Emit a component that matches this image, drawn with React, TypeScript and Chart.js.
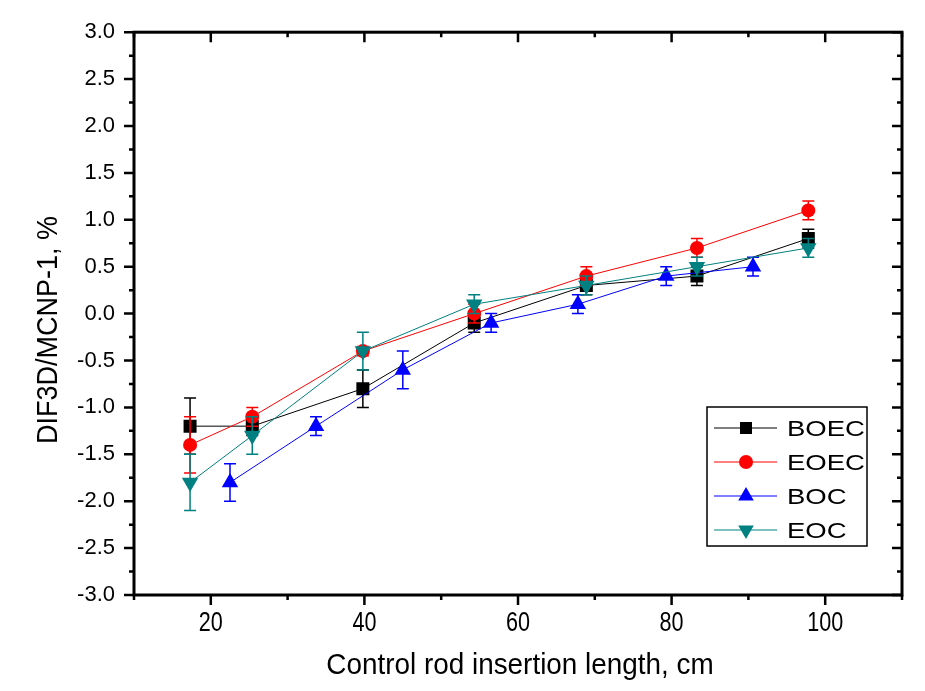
import React, { useEffect, useRef } from "react";
import { Chart, registerables } from "chart.js";

Chart.register(...registerables);

// ---------------- data ----------------
const seriesNames = ["BOEC", "EOEC", "BOC", "EOC"];
const seriesColors = ["#000000", "#ff0000", "#0000ff", "#008080"];

const boecX = [17.3, 25.4, 39.8, 54.3, 68.9, 83.3, 97.8];
const boecY = [-1.2, -1.2, -0.8, -0.1, 0.3, 0.4, 0.8];
const boecErr = [0.3, 0.1, 0.2, 0.1, 0.1, 0.1, 0.1];

const eoecX = [17.3, 25.4, 39.8, 54.3, 68.9, 83.3, 97.8];
const eoecY = [-1.4, -1.1, -0.4, 0.0, 0.4, 0.7, 1.1];
const eoecErr = [0.3, 0.1, 0.05, 0.1, 0.1, 0.1, 0.1];

const bocX = [22.5, 33.7, 45.0, 56.5, 67.8, 79.3, 90.6];
const bocY = [-1.8, -1.2, -0.6, -0.1, 0.1, 0.4, 0.5];
const bocErr = [0.2, 0.1, 0.2, 0.1, 0.1, 0.1, 0.1];

const eocX = [17.3, 25.4, 39.8, 54.3, 68.9, 83.3, 97.8];
const eocY = [-1.8, -1.3, -0.4, 0.1, 0.3, 0.5, 0.7];
const eocErr = [0.3, 0.2, 0.2, 0.1, 0.1, 0.1, 0.1];

const xTickValues = [20, 40, 60, 80, 100];
const xMinorTicks = [10, 30, 50, 70, 90, 110];
const yTickValues = [-3, -2.5, -2, -1.5, -1, -0.5, 0, 0.5, 1, 1.5, 2, 2.5, 3];
const yMinorTicks = [-2.75, -2.25, -1.75, -1.25, -0.75, -0.25, 0.25, 0.75, 1.25, 1.75, 2.25, 2.75];

const xTitle = "Control rod insertion length, cm";
const yTitle = "DIF3D/MCNP-1, %";

const pts = (xs: number[], ys: number[]) => xs.map((x, i) => ({ x, y: ys[i] }));

const SANS = "'Liberation Sans', Arial, sans-serif";

// draw text with a horizontal stretch factor
function stretchText(
  ctx: CanvasRenderingContext2D,
  text: string,
  x: number,
  y: number,
  size: number,
  sx: number,
  align: "left" | "center" | "right"
) {
  ctx.save();
  ctx.font = `${size}px ${SANS}`;
  ctx.textAlign = "left";
  ctx.textBaseline = "alphabetic";
  const w = ctx.measureText(text).width * sx;
  const x0 = align === "left" ? x : align === "center" ? x - w / 2 : x - w;
  ctx.translate(x0, y);
  ctx.scale(sx, 1);
  ctx.fillText(text, 0, 0);
  ctx.restore();
}

// ------------- marker drawing (legend) -------------
function drawMarker(ctx: CanvasRenderingContext2D, style: string, x: number, y: number, r: number, color: string, rot = 0) {
  ctx.save();
  ctx.fillStyle = color;
  ctx.beginPath();
  if (style === "rect") {
    const s = r * Math.SQRT1_2;
    ctx.rect(x - s, y - s, 2 * s, 2 * s);
  } else if (style === "circle") {
    ctx.arc(x, y, r, 0, Math.PI * 2);
  } else {
    const sgn = rot === 180 ? -1 : 1;
    ctx.moveTo(x, y - sgn * r);
    ctx.lineTo(x + r * 0.866, y + sgn * r * 0.5);
    ctx.lineTo(x - r * 0.866, y + sgn * r * 0.5);
    ctx.closePath();
  }
  ctx.fill();
  ctx.restore();
}

// ------------- plugins -------------
const errorBarPlugin = {
  id: "errorBars",
  afterDatasetDraw(chart: any, args: any) {
    const ds = chart.data.datasets[args.index];
    const errs: number[] = ds.errors;
    if (!errs) return;
    const { ctx, scales } = chart;
    ctx.save();
    ctx.strokeStyle = ds.borderColor;
    ctx.lineWidth = 1.5;
    ds.data.forEach((p: any, i: number) => {
      const px = scales.x.getPixelForValue(p.x);
      const top = scales.y.getPixelForValue(p.y + errs[i]);
      const bot = scales.y.getPixelForValue(p.y - errs[i]);
      ctx.beginPath();
      ctx.moveTo(px, top);
      ctx.lineTo(px, bot);
      ctx.moveTo(px - 6, top);
      ctx.lineTo(px + 6, top);
      ctx.moveTo(px - 6, bot);
      ctx.lineTo(px + 6, bot);
      ctx.stroke();
    });
    ctx.restore();
  },
};

const framePlugin = {
  id: "frame",
  afterDraw(chart: any) {
    const { ctx, chartArea: a, scales } = chart;
    ctx.save();
    ctx.strokeStyle = "#000";
    ctx.lineWidth = 3;
    ctx.lineCap = "square";
    ctx.strokeRect(a.left, a.top, a.right - a.left, a.bottom - a.top);
    ctx.lineWidth = 2.5;
    ctx.lineCap = "butt";
    const major = 10, minor = 5;
    ctx.beginPath();
    const xt = (v: number, len: number) => {
      const px = scales.x.getPixelForValue(v);
      ctx.moveTo(px, a.bottom);
      ctx.lineTo(px, a.bottom + len);
      ctx.moveTo(px, a.top);
      ctx.lineTo(px, a.top + len);
    };
    const yt = (v: number, len: number) => {
      const py = scales.y.getPixelForValue(v);
      ctx.moveTo(a.left, py);
      ctx.lineTo(a.left - len, py);
      ctx.moveTo(a.right, py);
      ctx.lineTo(a.right - len, py);
    };
    xTickValues.forEach((v) => xt(v, major));
    xMinorTicks.forEach((v) => xt(v, minor));
    yTickValues.forEach((v) => yt(v, major));
    yMinorTicks.forEach((v) => yt(v, minor));
    ctx.stroke();

    ctx.fillStyle = "#000";
    // x tick labels (narrow)
    xTickValues.forEach((v) => {
      stretchText(ctx, String(v), scales.x.getPixelForValue(v), 631, 27, 0.8, "center");
    });
    // x title
    stretchText(ctx, xTitle, (a.left + a.right) / 2 + 2, 674, 29.5, 0.945, "center");
    // y title
    ctx.save();
    ctx.translate(56.5, 330);
    ctx.rotate(-Math.PI / 2);
    stretchText(ctx, yTitle, 0, 0, 30, 0.9, "center");
    ctx.restore();
    ctx.restore();
  },
};

const legendPlugin = {
  id: "customLegend",
  afterDraw(chart: any) {
    const { ctx } = chart;
    const box = { x: 707, y: 407, w: 160, h: 139 };
    ctx.save();
    ctx.fillStyle = "#fff";
    ctx.fillRect(box.x, box.y, box.w, box.h);
    ctx.strokeStyle = "#000";
    ctx.lineWidth = 1.5;
    ctx.strokeRect(box.x, box.y, box.w, box.h);
    const rows = [428, 462, 496, 530];
    chart.data.datasets.forEach((ds: any, i: number) => {
      const y = rows[i];
      ctx.strokeStyle = ds.borderColor;
      ctx.lineWidth = 1;
      ctx.beginPath();
      ctx.moveTo(714, y);
      ctx.lineTo(777, y);
      ctx.stroke();
      drawMarker(ctx, ds.pointStyle, 746, y, ds.pointStyle === "circle" ? 7 : ds.pointStyle === "rect" ? 8.5 : 9, ds.borderColor, ds.pointRotation || 0);
      ctx.fillStyle = "#000";
      stretchText(ctx, ds.label, 787, y + 8, 22, 1.25, "left");
    });
    ctx.restore();
  },
};

export default function App() {
  const ref = useRef<HTMLCanvasElement | null>(null);

  useEffect(() => {
    if (!ref.current) return;
    const mk = (i: number, xs: number[], ys: number[], errs: number[], style: string, radius: number, order: number, rot = 0) => ({
      label: seriesNames[i],
      data: pts(xs, ys),
      errors: errs,
      borderColor: seriesColors[i],
      backgroundColor: seriesColors[i],
      pointBackgroundColor: seriesColors[i],
      pointBorderColor: seriesColors[i],
      pointBorderWidth: 0,
      pointStyle: style,
      pointRadius: radius,
      pointRotation: rot,
      borderWidth: 1,
      showLine: true,
      tension: 0,
      order,
    });

    const chart = new Chart(ref.current, {
      type: "scatter",
      data: {
        datasets: [
          mk(0, boecX, boecY, boecErr, "rect", 9.2, 4),
          mk(1, eoecX, eoecY, eoecErr, "circle", 7, 3),
          mk(2, bocX, bocY, bocErr, "triangle", 9.5, 2),
          mk(3, eocX, eocY, eocErr, "triangle", 9.5, 1, 180),
        ] as any,
      },
      options: {
        responsive: false,
        animation: false,
        layout: { padding: { top: 27, right: 23, left: 0, bottom: 0 } },
        plugins: { legend: { display: false }, tooltip: { enabled: false } },
        scales: {
          x: {
            type: "linear",
            min: 10,
            max: 110,
            grid: { display: false, drawTicks: false },
            border: { display: false },
            afterBuildTicks: (s: any) => {
              s.ticks = xTickValues.map((v) => ({ value: v }));
            },
            afterFit: (s: any) => {
              s.height = 96;
            },
            ticks: { display: false },
          },
          y: {
            type: "linear",
            min: -3,
            max: 3,
            grid: { display: false, drawTicks: false },
            border: { display: false },
            afterBuildTicks: (s: any) => {
              s.ticks = yTickValues.map((v) => ({ value: v }));
            },
            afterFit: (s: any) => {
              s.width = 134;
            },
            ticks: {
              color: "#000",
              font: { family: SANS, size: 22 },
              padding: 19,
              autoSkip: false,
              callback: (v: any) => Number(v).toFixed(1),
            },
          },
        },
      } as any,
      plugins: [errorBarPlugin, framePlugin, legendPlugin],
    });
    return () => chart.destroy();
  }, []);

  return (
    <div style={{ position: "absolute", left: 0, top: 0, width: 925, height: 691, background: "#fff" }}>
      <canvas ref={ref} width={925} height={691} style={{ display: "block" }} />
    </div>
  );
}
